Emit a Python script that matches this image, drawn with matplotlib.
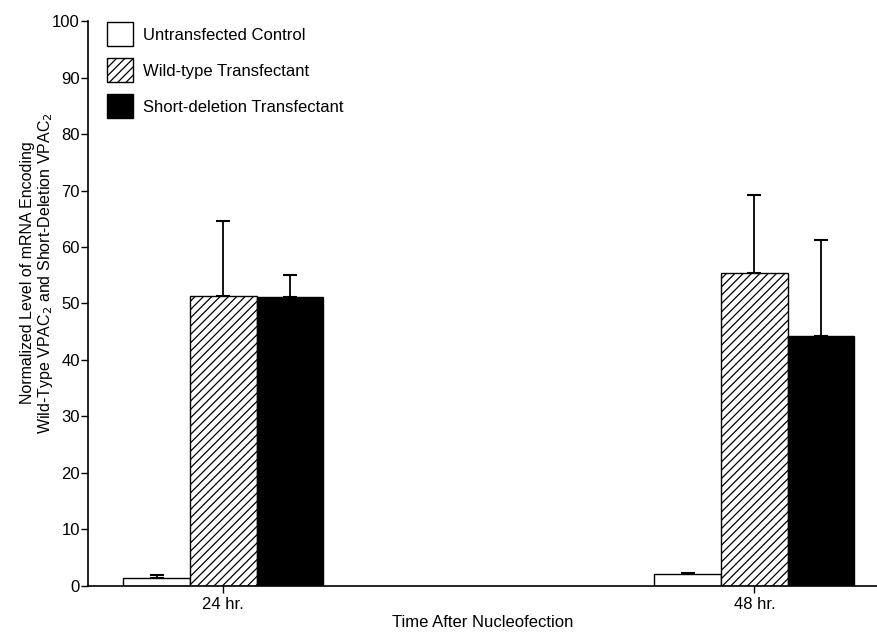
import numpy as np
import matplotlib.pyplot as plt

plt.rcParams['font.family'] = ['Liberation Sans', 'DejaVu Sans']
plt.rcParams['hatch.linewidth'] = 0.9

# mean level and upper error (SD) for each group at each time point
timepoints = ["24 hr.", "48 hr."]
groups = ["Untransfected Control", "Wild-type Transfectant", "Short-deletion Transfectant"]
means = {
    "Untransfected Control": [1.3, 2.0],
    "Wild-type Transfectant": [51.3, 55.3],
    "Short-deletion Transfectant": [51.2, 44.3],
}
errors = {
    "Untransfected Control": [0.5, 0.2],
    "Wild-type Transfectant": [13.3, 13.9],
    "Short-deletion Transfectant": [3.8, 16.9],
}
styles = {
    "Untransfected Control": dict(facecolor="white", hatch=None),
    "Wild-type Transfectant": dict(facecolor="white", hatch="////"),
    "Short-deletion Transfectant": dict(facecolor="black", hatch=None),
}

fig = plt.figure(figsize=(8.77, 6.33), dpi=100)
ax = fig.add_axes([0.1007, 0.075, 0.8993, 0.8915])

x = np.arange(len(timepoints))
width = 0.1256
offsets = [-width, 0, width]

for g, off in zip(groups, offsets):
    m = np.array(means[g])
    e = np.array(errors[g])
    ax.bar(x + off, m, width, edgecolor="black", linewidth=1.0,
           label=g, zorder=2, **styles[g])
    ax.errorbar(x + off, m, yerr=[np.zeros_like(e), e], fmt="none",
                ecolor="black", elinewidth=1.3, capsize=5, capthick=1.5, zorder=1)

ax.set_xlim(-0.254, 1.231)
ax.set_ylim(0, 100)
ax.set_xticks(x)
ax.set_xticklabels(timepoints)
ax.set_yticks(np.arange(0, 101, 10))
ax.tick_params(axis="both", direction="out", length=5, width=1, labelsize=12)
ax.tick_params(axis="y", pad=1)
ax.spines["top"].set_visible(False)
ax.spines["right"].set_visible(False)
ax.spines["left"].set_linewidth(1.2)
ax.spines["bottom"].set_linewidth(1.2)

ax.set_xlabel("Time After Nucleofection", fontsize=12, labelpad=2)
ax.set_ylabel("Normalized Level of mRNA Encoding\n"
              "Wild-Type VPAC$_2$ and Short-Deletion VPAC$_2$",
              fontsize=11.5, linespacing=1.1)
ax.yaxis.set_label_coords(-0.042, 0.554)

ax.legend(loc="upper left", bbox_to_anchor=(0.005, 1.025), frameon=False,
          fontsize=12, handlelength=1.55, handleheight=1.85,
          labelspacing=0.72, handletextpad=0.6)

fig.savefig("out.png", dpi=100)
